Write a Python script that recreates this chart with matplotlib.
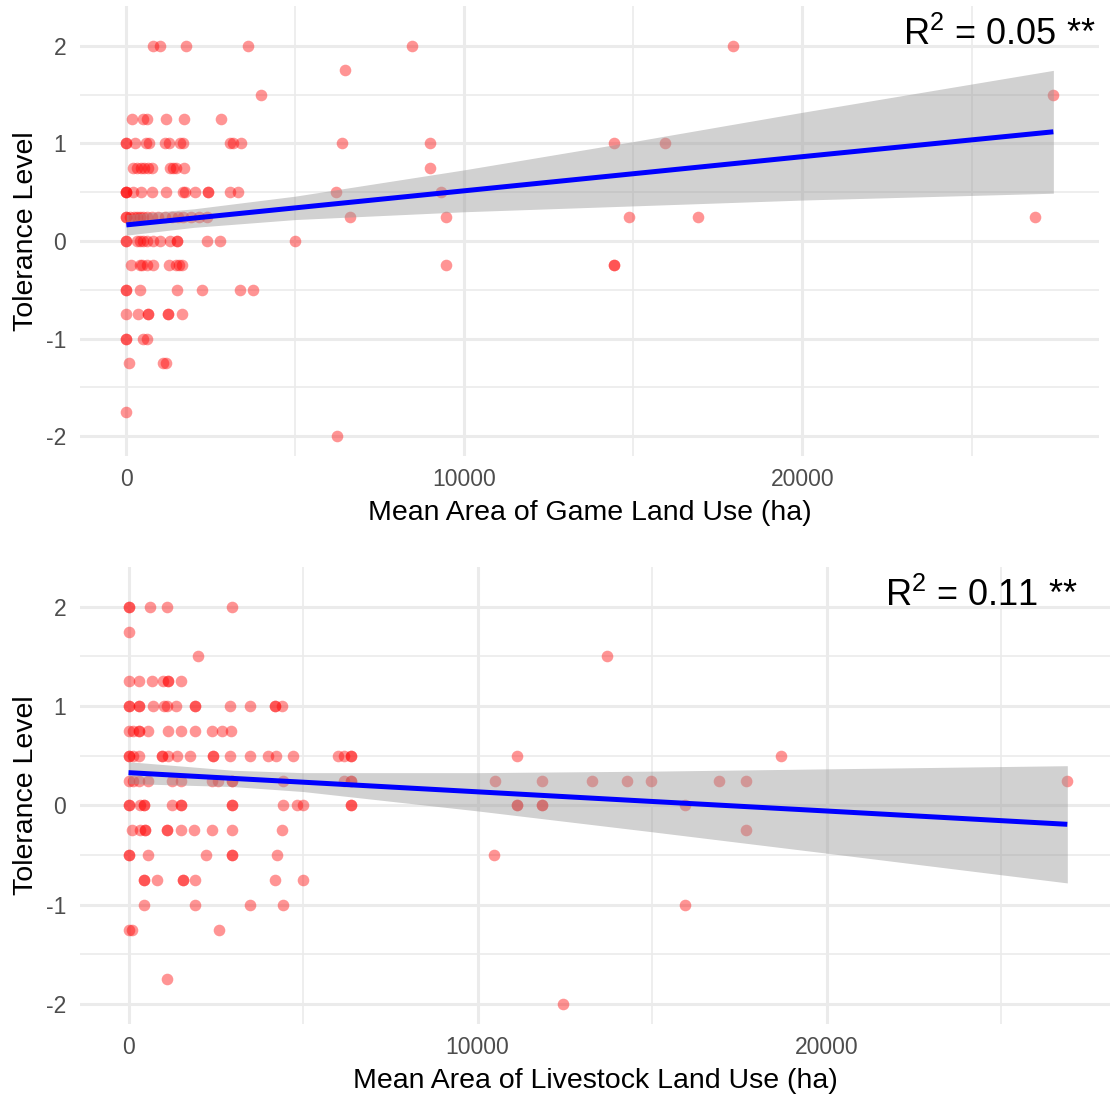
import matplotlib
matplotlib.use("Agg")
import matplotlib.pyplot as plt
from matplotlib.ticker import MultipleLocator
import numpy as np

plt.rcParams["font.family"] = ["Liberation Sans", "DejaVu Sans"]
plt.rcParams["mathtext.fontset"] = "custom"
plt.rcParams["mathtext.rm"] = "Liberation Sans"
plt.rcParams["mathtext.it"] = "Liberation Sans:italic"
plt.rcParams["axes.unicode_minus"] = False

levels = [2, 1.75, 1.5, 1.25, 1, 0.75, 0.5, 0.25, 0, -0.25, -0.5, -0.75, -1, -1.25, -1.75, -2]

game_rows = [
    [790, 1000, 1765, 3590, 8450, 17950],
    [6470],
    [3985, 27420],
    [176, 500, 620, 1180, 1710, 2800],
    [0, 0, 260, 590, 680, 1150, 1260, 1590, 1680, 3060, 3150, 3380, 6380, 8985, 14430, 15940],
    [200, 320, 440, 530, 650, 760, 1290, 1380, 1470, 1710, 8985],
    [0, 0, 0, 200, 440, 760, 1180, 1680, 1740, 2030, 2410, 2410, 3060, 3290, 6200, 9310],
    [0, 0, 120, 240, 320, 410, 500, 620, 760, 940, 1150, 1350, 1530, 1680, 1910, 2150, 2380,
     6620, 9460, 14870, 16910, 26890],
    [0, 0, 320, 410, 500, 620, 790, 1000, 1290, 1500, 1500, 2380, 2760, 4990],
    [150, 410, 470, 620, 790, 1260, 1470, 1560, 1650, 9460, 14430, 14430],
    [0, 0, 410, 1500, 2240, 3350, 3760],
    [0, 350, 650, 650, 1240, 1240, 1650],
    [0, 0, 500, 620],
    [90, 1090, 1180],
    [0],
    [6230],
]

livestock_rows = [
    [0, 0, 630, 1110, 2970],
    [0],
    [2000, 13710],
    [0, 290, 660, 1000, 1140, 1140, 1490],
    [0, 0, 310, 310, 690, 1030, 1110, 1370, 1910, 1910, 2910, 3490, 4200, 4200, 4400],
    [0, 140, 310, 310, 570, 1140, 1490, 1910, 2400, 2690, 2940],
    [0, 0, 140, 290, 970, 970, 1140, 1400, 1770, 2430, 2430, 2910, 3490, 4000, 4230, 4710,
     6000, 6170, 6370, 6370, 11140, 18690],
    [0, 140, 310, 570, 1260, 1490, 2400, 2570, 2970, 2970, 4430, 6170, 6370, 6370, 10490,
     11860, 13290, 14290, 14970, 16910, 17690, 26900],
    [0, 0, 340, 430, 430, 1260, 1490, 1490, 2970, 2970, 4430, 4830, 5000, 6370, 6370,
     11140, 11140, 11860, 11860, 15940],
    [110, 340, 460, 460, 1110, 1110, 1510, 1890, 2400, 2970, 4400, 17690],
    [0, 0, 570, 2230, 2970, 2970, 4260, 10460],
    [430, 430, 830, 1570, 1570, 1910, 4200, 5000],
    [430, 1910, 3490, 4430, 15940],
    [0, 110, 2600],
    [1090],
    [12460],
]

# fitted line and 95% band, read at a few x positions
game_fit_x = [0, 2000, 5000, 10000, 15000, 20000, 27420]
game_fit = [0.165, 0.235, 0.34, 0.515, 0.69, 0.865, 1.12]
game_lo = [0.06, 0.14, 0.22, 0.30, 0.36, 0.42, 0.49]
game_hi = [0.27, 0.33, 0.46, 0.73, 1.02, 1.32, 1.75]

live_fit_x = [0, 3000, 5000, 10000, 15000, 20000, 26900]
live_fit = [0.33, 0.272, 0.234, 0.137, 0.04, -0.056, -0.19]
live_lo = [0.22, 0.19, 0.14, -0.055, -0.265, -0.48, -0.78]
live_hi = [0.44, 0.354, 0.33, 0.33, 0.345, 0.368, 0.40]


def flatten(rows):
    xs, ys = [], []
    for lev, row in zip(levels, rows):
        xs += row
        ys += [lev] * len(row)
    return np.array(xs), np.array(ys)


def panel(ax, rows, fx, fy, lo, hi, xlabel, r2, r2_x, xlim, ylim):
    x, y = flatten(rows)
    ax.scatter(x, y, s=70, color="red", alpha=0.42, linewidths=0, zorder=2)
    ax.fill_between(fx, lo, hi, color="#999999", alpha=0.45, linewidth=0, zorder=3)
    ax.plot(fx, fy, color="blue", lw=3.6, zorder=4, solid_capstyle="butt")
    ax.set_xlim(*xlim)
    ax.set_ylim(*ylim)
    ax.set_xticks([0, 10000, 20000])
    ax.set_yticks([-2, -1, 0, 1, 2])
    ax.xaxis.set_minor_locator(MultipleLocator(5000))
    ax.yaxis.set_minor_locator(MultipleLocator(0.5))
    ax.grid(which="major", color="#EBEBEB", lw=2.2, zorder=0)
    ax.grid(which="minor", color="#EBEBEB", lw=1.2, zorder=0)
    ax.set_axisbelow(True)
    for s in ax.spines.values():
        s.set_visible(False)
    ax.tick_params(which="both", length=0, labelsize=16.5, labelcolor="#4D4D4D")
    ax.tick_params(axis="x", pad=9)
    ax.tick_params(axis="y", pad=10)
    ax.set_xlabel(xlabel, fontsize=20.5, labelpad=6)
    ax.set_ylabel("Tolerance Level", fontsize=20.5, labelpad=5)
    ax.text(r2_x, 2.01, r"R$^{\mathrm{2}}$ = " + r2 + " **", fontsize=26,
            ha="right", va="baseline", zorder=5)


fig = plt.figure(figsize=(11.1, 10.94), dpi=100)
ax1 = fig.add_axes([80 / 1110, (1094 - 456) / 1094, 1019 / 1110, 450 / 1094])
ax2 = fig.add_axes([80 / 1110, (1094 - 1024) / 1094, 1030 / 1110, 457 / 1094])

panel(ax1, game_rows, game_fit_x, game_fit, game_lo, game_hi,
      "Mean Area of Game Land Use (ha)", "0.05", 28680, (-1370, 28770), (-2.205, 2.41))
panel(ax2, livestock_rows, live_fit_x, live_fit, live_lo, live_hi,
      "Mean Area of Livestock Land Use (ha)", "0.11", 27180, (-1390, 28123), (-2.2, 2.40))

fig.savefig("out.png", dpi=100)
plt.close(fig)
